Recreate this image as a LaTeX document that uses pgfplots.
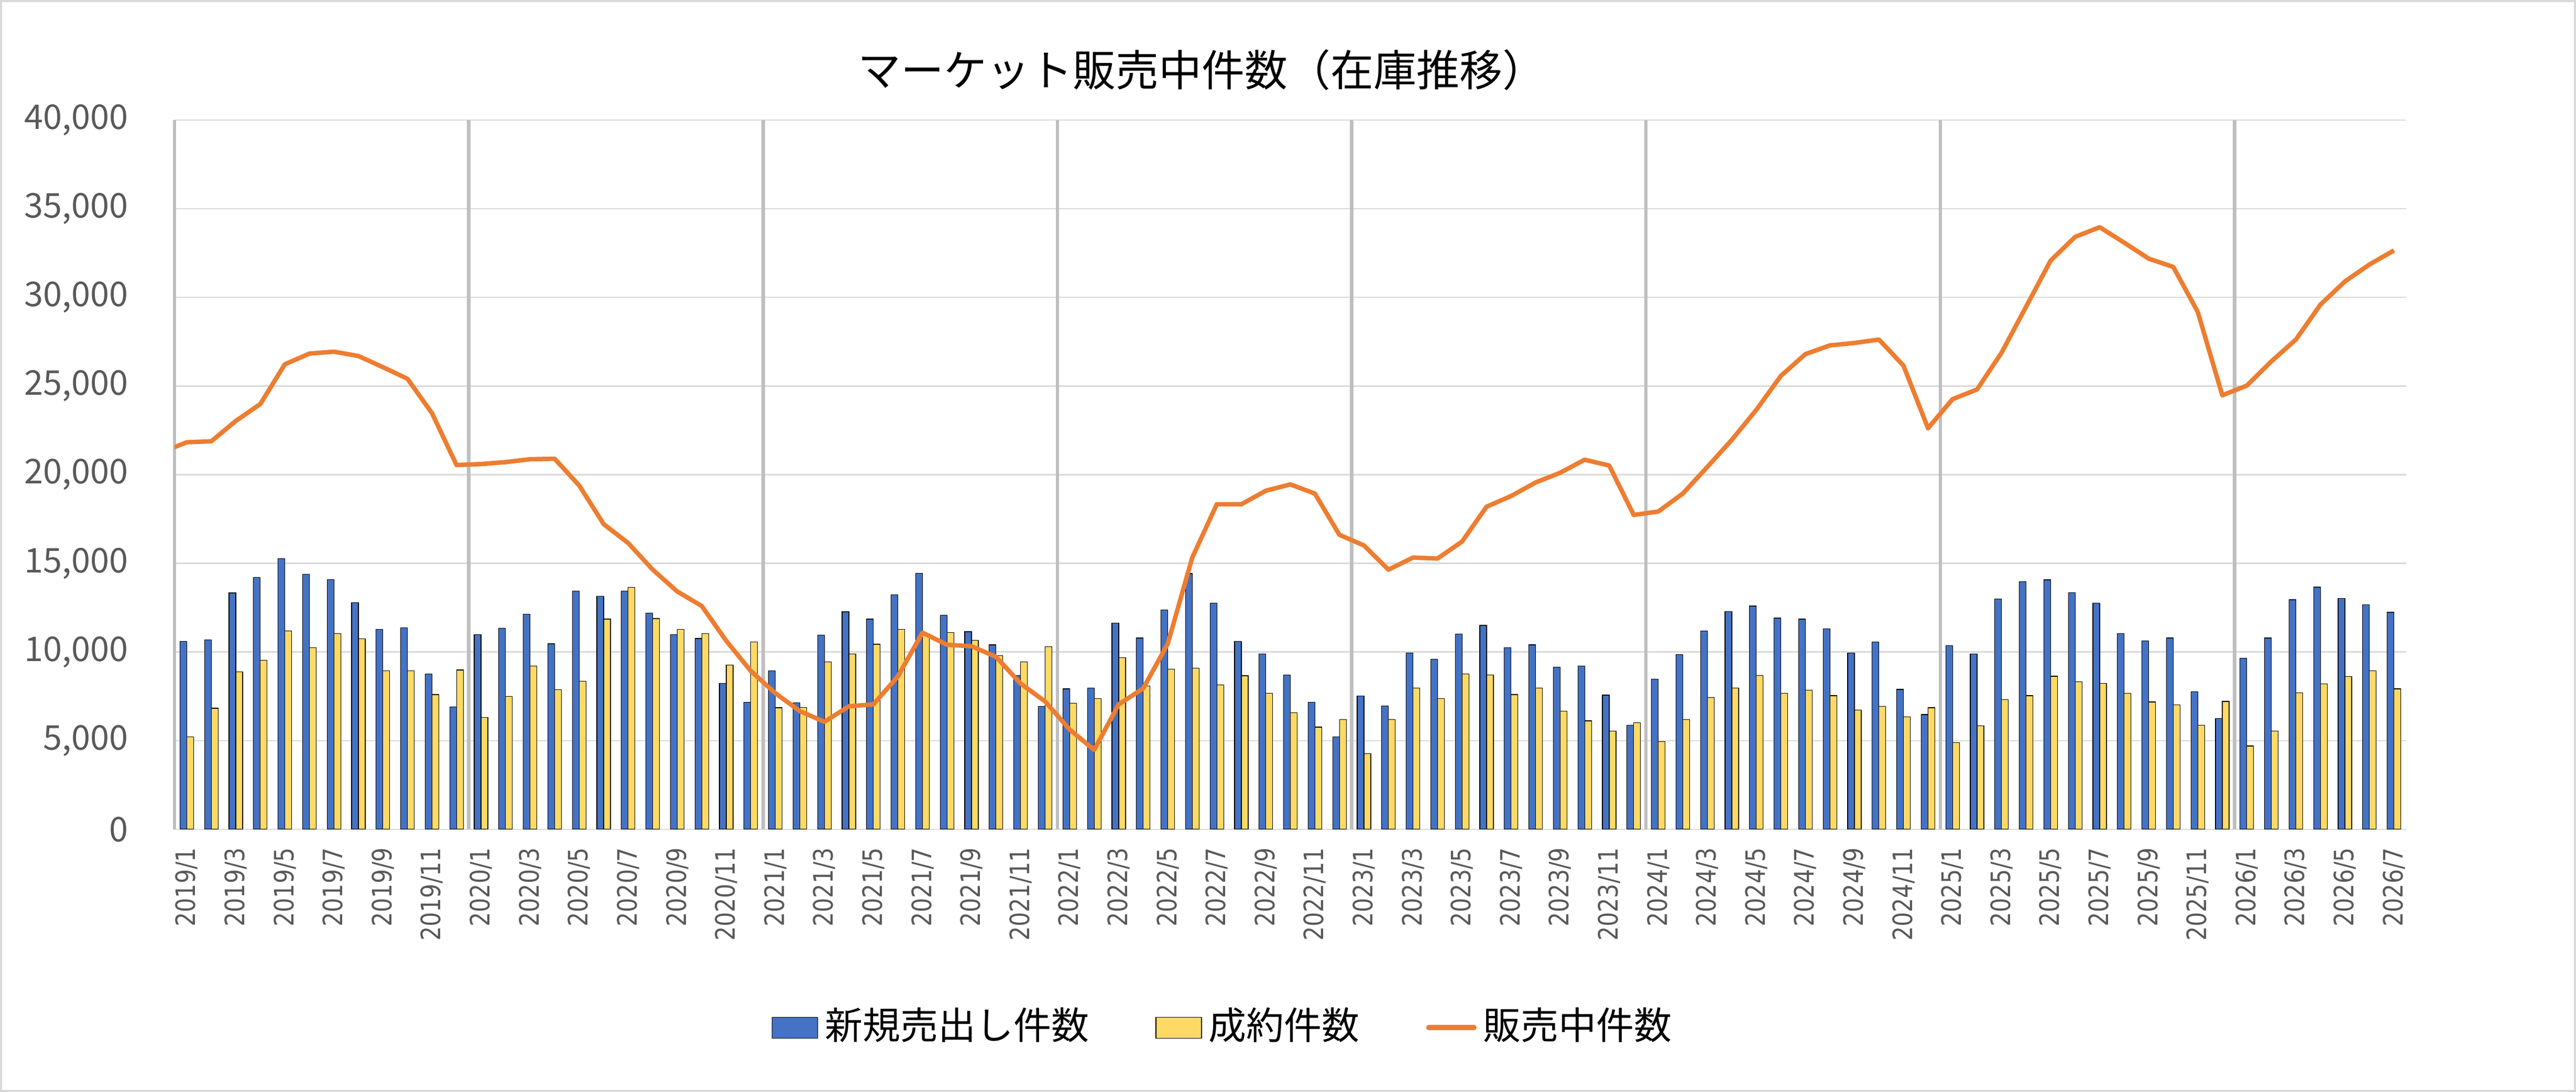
\documentclass[border=0pt]{standalone}
\usepackage{fontspec}
\usepackage{pgfplots}
\usepackage{pgfplotstable}
\pgfplotsset{compat=1.18}
\newfontfamily\cjk{Noto Sans CJK JP}
\newfontfamily\xfont[FakeStretch=0.84]{DejaVu Sans}
\definecolor{barblue}{HTML}{4472C4}
\definecolor{baryellow}{HTML}{FFD966}
\definecolor{lineorange}{HTML}{ED7D31}
\definecolor{gridgray}{HTML}{D9D9D9}
\definecolor{sepgray}{HTML}{BFBFBF}
\definecolor{labelgray}{HTML}{595959}

\pgfplotstableread{
x  b     y     l
-1 nan   nan   21280
0  10600 5218  21829
1  10682 6830  21883
2  13332 8879  23031
3  14206 9535  23987
4  15272 11201 26227
5  14371 10245 26828
6  14097 11037 26938
7  12786 10737 26692
8  11283 8934  26063
9  11365 8934  25408
10 8770  7595  23468
11 6912  8988  20545
12 10983 6311  20600
13 11338 7486  20709
14 12130 9207  20873
15 10464 7868  20900
16 13441 8360  19397
17 13141 11857 17212
18 13441 13633 16146
19 12185 11884 14644
20 10983 11283 13414
21 10764 11037 12595
22 8223  9262  10628
23 7158  10573 8930
24 8934  6857  7677
25 7131  6885  6666
26 10955 9453  6065
27 12267 9890  6939
28 11857 10436 7049
29 13223 11283 8633
30 14452 11037 11092
31 12075 11092 10409
32 11147 10655 10327
33 10409 9808  9726
34 8688  9453  8223
35 6939  10300 7212
36 7923  7103  5628
37 7977  7376  4480
38 11638 9671  7049
39 10791 8087  7950
40 12376 9043  10464
41 14425 9098  15327
42 12758 8141  18332
43 10600 8660  18332
44 9890  7677  19097
45 8715  6584  19452
46 7158  5765  18933
47 5218  6202  16611
48 7513  4262  16010
49 6967  6202  14644
50 9944  7977  15327
51 9589  7376  15272
52 11010 8770  16228
53 11502 8715  18195
54 10245 7595  18796
55 10409 7977  19562
56 9152  6666  20108
57 9207  6120  20845
58 7568  5546  20517
59 5874  6010  17731
60 8469  4945  17922
61 9863  6202  18933
62 11201 7431  20435
63 12294 7977  21965
64 12595 8688  23659
65 11912 7677  25572
66 11857 7841  26801
67 11310 7540  27293
68 9944  6721  27429
69 10573 6939  27621
70 7895  6338  26150
71 6475  6857  22621
72 10354 4890  24260
73 9890  5846  24806
74 13004 7322  26883
75 13960 7540  29478
76 14070 8633  32074
77 13359 8333  33412
78 12758 8223  33959
79 11037 7677  33085
80 10627 7185  32183
81 10791 7021  31718
82 7759  5874  29178
83 6256  7212  24479
84 9644  4699  25025
85 10791 5546  26391
86 12950 7704  27621
87 13660 8196  29588
88 13032 8606  30899
89 12676 8934  31855
90 12240 7923  32647
}\datatable

\begin{document}
\begin{tikzpicture}
\useasboundingbox (0pt,0pt) rectangle (491.6pt,208.3pt);
\draw[gridgray, line width=0.35pt] (0.2pt,0.2pt) rectangle (491.4pt,208.1pt);
\begin{axis}[
  at={(33.3pt,50.1pt)}, anchor=south west,
  width=425.9pt, height=135.3pt, scale only axis,
  xmin=-0.5, xmax=90.5, ymin=0, ymax=40000,
  scaled y ticks=false,
  axis x line*=bottom, axis y line*=left,
  axis line style={draw=none},
  ymajorgrids, grid style={gridgray, line width=0.25pt},
  ytick={0,5000,10000,15000,20000,25000,30000,35000,40000},
  yticklabels={0,{5,000},{10,000},{15,000},{20,000},{25,000},{30,000},{35,000},{40,000}},
  yticklabel style={anchor=east, inner sep=0pt, text=labelgray, font=\cjk\fontsize{6.5pt}{7pt}\selectfont},
  yticklabel shift=8.6pt,
  major tick length=0pt,
  xtick={0,2,...,90},
  xticklabels={2019/1,2019/3,2019/5,2019/7,2019/9,2019/11,
    2020/1,2020/3,2020/5,2020/7,2020/9,2020/11,
    2021/1,2021/3,2021/5,2021/7,2021/9,2021/11,
    2022/1,2022/3,2022/5,2022/7,2022/9,2022/11,
    2023/1,2023/3,2023/5,2023/7,2023/9,2023/11,
    2024/1,2024/3,2024/5,2024/7,2024/9,2024/11,
    2025/1,2025/3,2025/5,2025/7,2025/9,2025/11,
    2026/1,2026/3,2026/5,2026/7},
  xticklabel style={rotate=90, anchor=east, inner sep=0pt, text=labelgray, font=\xfont\fontsize{5.1pt}{6pt}\selectfont},
  xticklabel shift=3.3pt,
  extra x ticks={-0.5,11.5,23.5,35.5,47.5,59.5,71.5,83.5},
  extra x tick labels={},
  extra x tick style={grid=major, grid style={sepgray, line width=0.65pt}},
  legend style={at={(0.2677,-0.2795)}, anchor=west, draw=none, fill=none,
    inner sep=0pt, outer sep=0pt,
    nodes={inner sep=0pt, anchor=west},
    font=\cjk\fontsize{7.2pt}{8pt}\selectfont, text=black,
    /tikz/every odd column/.append style={column sep=1.3pt},
    /tikz/every even column/.append style={column sep=12.7pt}},
  legend columns=3,
]
\addplot[ybar, bar width=1.3pt, bar shift=-0.65pt, fill=barblue, draw=black, line width=0.12pt,
  legend image code/.code={\draw[fill=barblue, draw=black, line width=0.12pt] (0pt,-2pt) rectangle (8.7pt,2pt);}]
  table[x=x, y=b] {\datatable};
\addlegendentry{新規売出し件数}
\addplot[ybar, bar width=1.3pt, bar shift=0.65pt, fill=baryellow, draw=black, line width=0.12pt,
  legend image code/.code={\draw[fill=baryellow, draw=black, line width=0.12pt] (0pt,-2pt) rectangle (8.7pt,2pt);}]
  table[x=x, y=y] {\datatable};
\addlegendentry{成約件数}
\addplot[lineorange, line width=0.85pt, no marks, line join=round,
  legend image code/.code={\draw[lineorange, line width=0.93pt, line cap=round] (0.5pt,0pt) -- (9.2pt,0pt);}]
  table[x=x, y=l] {\datatable};
\addlegendentry{販売中件数}
\end{axis}
\node[font=\cjk\fontsize{8.2pt}{9.5pt}\selectfont, text=black, inner sep=0pt] at (229.3pt,195.0pt) {マーケット販売中件数（在庫推移）};
\end{tikzpicture}
\end{document}
